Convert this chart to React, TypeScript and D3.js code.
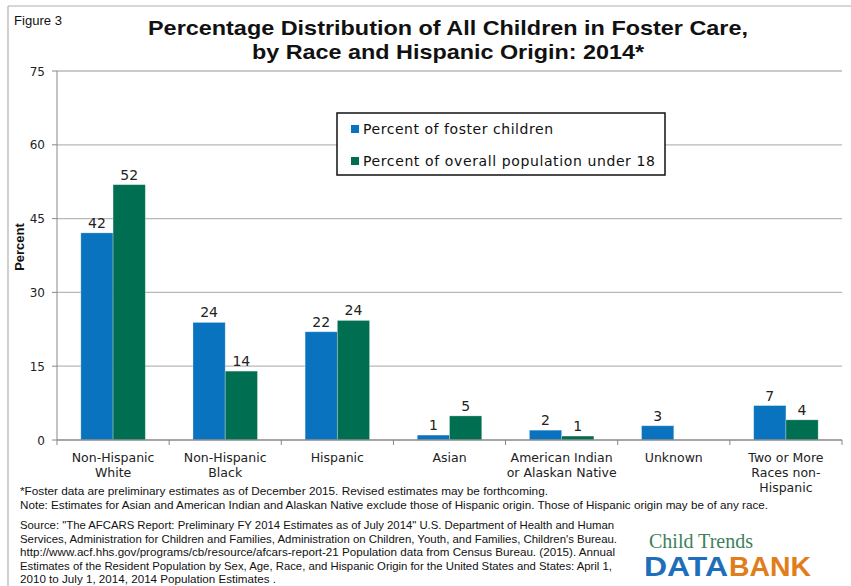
import React from "react";
import * as d3 from "d3";

const categories: string[][] = [
  ["Non-Hispanic", "White"],
  ["Non-Hispanic", "Black"],
  ["Hispanic"],
  ["Asian"],
  ["American Indian", "or Alaskan Native"],
  ["Unknown"],
  ["Two or More", "Races non-", "Hispanic"],
];
const seriesNames = ["Percent of foster children", "Percent of overall population under 18"];
const fosterValues: (number | null)[] = [42.1, 23.9, 22.0, 1.0, 2.0, 2.9, 7.0];
const populationValues: (number | null)[] = [51.9, 14.0, 24.3, 4.9, 0.8, null, 4.1];
const yTicks = [0, 15, 30, 45, 60, 75];
const titleLines = [
  "Percentage Distribution of All Children in Foster Care,",
  "by Race and Hispanic Origin: 2014*",
];
const footnotes = [
  "*Foster data are preliminary estimates as of December  2015.  Revised estimates may be forthcoming.",
  "Note:  Estimates for Asian and American Indian and Alaskan Native exclude those of Hispanic origin.  Those of Hispanic origin may be of any race.",
];
const sourceLines = [
  "Source:  \"The AFCARS Report: Preliminary FY 2014 Estimates as of July 2014\" U.S. Department of Health and Human",
  "Services, Administration for Children and Families, Administration on Children, Youth, and Families, Children's Bureau.",
  "http://www.acf.hhs.gov/programs/cb/resource/afcars-report-21  Population data from Census Bureau. (2015). Annual",
  "Estimates of the Resident Population by Sex, Age, Race, and Hispanic Origin for the United States and States: April 1,",
  "2010 to July 1, 2014, 2014  Population Estimates .",
];

const COLORS = ["#0A73BF", "#006E50"];
const W = 851;
const H = 586;
const plot = { left: 57, right: 842, top: 71, bottom: 440 };

export default function App() {
  const x0 = d3
    .scaleBand<number>()
    .domain(d3.range(categories.length))
    .range([plot.left, plot.right])
    .paddingInner(0.425)
    .paddingOuter(0.2125);
  const x1 = d3.scaleBand<number>().domain([0, 1]).range([0, x0.bandwidth()]).padding(0);
  const y = d3.scaleLinear().domain([0, 75]).range([plot.bottom, plot.top]);
  const step = x0.step();
  const series = [fosterValues, populationValues];
  const sans = "'DejaVu Sans', Verdana, sans-serif";
  const arial = "'Liberation Sans', Arial, sans-serif";
  const narrow = "'Liberation Sans Narrow', 'Liberation Sans', Arial, sans-serif";
  const footEnds = [548, 768];
  const sourceEnds = [614, 617, 615, 612, 276];
  const titleWidths = [600, 392];
  const legendWidths = [190, 292];

  return (
    <svg
      width={W}
      height={H}
      style={{ position: "absolute", left: 0, top: 0, background: "#fff" }}
    >
      <rect x={0} y={0} width={W} height={H} fill="#fff" />
      {/* outer frame */}
      <line x1={8} x2={W} y1={6} y2={6} stroke="#b0b0b0" strokeWidth={1.2} />
      <line x1={8} x2={8} y1={6} y2={H} stroke="#b0b0b0" strokeWidth={1.2} />

      <text
        x={14}
        y={25}
        fontFamily={narrow}
        fontSize={12}
        fill="#111"
        textLength={48}
        lengthAdjust="spacingAndGlyphs"
      >
        Figure 3
      </text>
      {titleLines.map((t, i) => (
        <text
          key={i}
          x={448}
          y={35 + i * 24}
          textAnchor="middle"
          fontFamily={arial}
          fontWeight="bold"
          fontSize={21}
          fill="#111"
          textLength={titleWidths[i]}
          lengthAdjust="spacingAndGlyphs"
        >
          {t}
        </text>
      ))}

      {/* gridlines */}
      {yTicks.map((t) => (
        <g key={t}>
          {t > 0 && (
            <line
              x1={plot.left}
              x2={plot.right}
              y1={y(t)}
              y2={y(t)}
              stroke="#b8b8b8"
              strokeWidth={1.3}
            />
          )}
          <line x1={plot.left - 5} x2={plot.left} y1={y(t)} y2={y(t)} stroke="#888" strokeWidth={1} />
          <text
            x={plot.left - 12}
            y={y(t) + 4.5}
            textAnchor="end"
            fontFamily={sans}
            fontSize={12}
            fill="#222"
          >
            {t}
          </text>
        </g>
      ))}

      {/* bars */}
      {series.map((vals, s) =>
        vals.map((v, i) =>
          v == null ? null : (
            <g key={`${s}-${i}`}>
              <rect
                x={(x0(i) as number) + (x1(s) as number)}
                y={y(v)}
                width={x1.bandwidth()}
                height={y(0) - y(v)}
                fill={COLORS[s]}
                stroke="#ffffff"
                strokeOpacity={0.35}
                strokeWidth={0.8}
              />
              <text
                x={(x0(i) as number) + (x1(s) as number) + x1.bandwidth() / 2}
                y={y(v) - 5}
                textAnchor="middle"
                fontFamily={sans}
                fontSize={14}
                fill="#222"
              >
                {Math.round(v)}
              </text>
            </g>
          )
        )
      )}

      {/* axes */}
      <line x1={plot.left} x2={plot.left} y1={plot.top} y2={plot.bottom} stroke="#888" strokeWidth={1} />
      <line x1={plot.left} x2={plot.right} y1={plot.bottom} y2={plot.bottom} stroke="#888" strokeWidth={1.3} />
      {d3.range(categories.length + 1).map((k) => (
        <line
          key={k}
          x1={plot.left + k * step}
          x2={plot.left + k * step}
          y1={plot.bottom}
          y2={plot.bottom + 5}
          stroke="#888"
          strokeWidth={1}
        />
      ))}
      {categories.map((lines, i) => (
        <text
          key={i}
          x={(x0(i) as number) + x0.bandwidth() / 2}
          y={462}
          textAnchor="middle"
          fontFamily={sans}
          fontSize={12.5}
          fill="#222"
        >
          {lines.map((l, j) => (
            <tspan key={j} x={(x0(i) as number) + x0.bandwidth() / 2} dy={j === 0 ? 0 : 15}>
              {l}
            </tspan>
          ))}
        </text>
      ))}

      <text
        transform={`translate(24,247) rotate(-90)`}
        textAnchor="middle"
        fontFamily={arial}
        fontWeight="bold"
        fontSize={13}
        fill="#111"
      >
        Percent
      </text>

      {/* legend */}
      <rect x={337} y={113} width={328} height={62} fill="#fff" stroke="#111" strokeWidth={1.5} />
      {seriesNames.map((n, i) => (
        <g key={n}>
          <rect x={351} y={125 + i * 32} width={8} height={8} fill={COLORS[i]} />
          <text
            x={363}
            y={134 + i * 32}
            fontFamily={sans}
            fontSize={14}
            fill="#111"
            textLength={legendWidths[i]}
            lengthAdjust="spacing"
          >
            {n}
          </text>
        </g>
      ))}

      {/* footnotes */}
      {footnotes.map((f, i) => (
        <text
          key={i}
          x={20}
          y={495 + i * 13.5}
          fontFamily={narrow}
          fontSize={11}
          fill="#111"
          textLength={footEnds[i] - 20}
          lengthAdjust="spacingAndGlyphs"
        >
          {f}
        </text>
      ))}
      {sourceLines.map((f, i) => (
        <text
          key={i}
          x={20}
          y={529 + i * 13.5}
          fontFamily={narrow}
          fontSize={11}
          fill="#111"
          textLength={sourceEnds[i] - 20}
          lengthAdjust="spacingAndGlyphs"
        >
          {f}
        </text>
      ))}

      {/* logo */}
      <text
        x={649}
        y={548}
        fontFamily="'Liberation Serif', 'DejaVu Serif', serif"
        fontSize={20}
        fill="#3E7F5C"
        textLength={104}
        lengthAdjust="spacingAndGlyphs"
      >
        Child Trends
      </text>
      <text
        x={644}
        y={576}
        fontFamily={arial}
        fontWeight="bold"
        fontSize={27}
        fill="#1E6FB9"
        textLength={84}
        lengthAdjust="spacingAndGlyphs"
      >
        DATA
      </text>
      <text
        x={729}
        y={576}
        fontFamily={arial}
        fontWeight="bold"
        fontSize={27}
        fill="#E27D1B"
        textLength={82}
        lengthAdjust="spacingAndGlyphs"
      >
        BANK
      </text>
    </svg>
  );
}
